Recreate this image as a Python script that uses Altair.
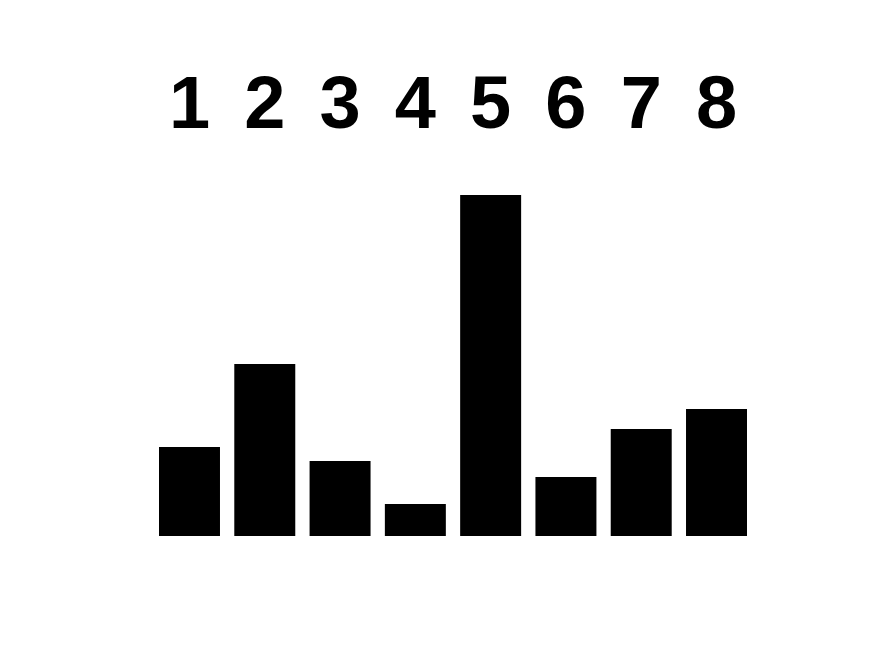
import altair as alt
import pandas as pd

categories = ["1", "2", "3", "4", "5", "6", "7", "8"]
values = [89, 172, 75, 32, 341, 59, 107, 127]

df = pd.DataFrame({"cat": categories, "val": values})

x = alt.X("cat:N", sort=categories, axis=None,
          scale=alt.Scale(paddingInner=0.19, paddingOuter=0))

bars = alt.Chart(df).mark_bar(color="black").encode(
    x=x,
    y=alt.Y("val:Q", axis=None, scale=alt.Scale(domain=[0, 341], nice=False, zero=True)),
)

labels = alt.Chart(df).mark_text(
    font="Liberation Sans", fontWeight="bold", fontSize=74,
    baseline="alphabetic", align="center", color="black",
).encode(
    x=x,
    y=alt.value(-67),
    text="cat:N",
)

chart = alt.layer(bars, labels).properties(
    width=588, height=341,
    background="white",
    autosize=alt.AutoSizeParams(type="none"),
    padding={"left": 159, "top": 195, "right": 128, "bottom": 120},
).configure_view(strokeWidth=0, stroke="transparent")

chart.save("out.html", embed_options={"renderer": "svg", "actions": False})
